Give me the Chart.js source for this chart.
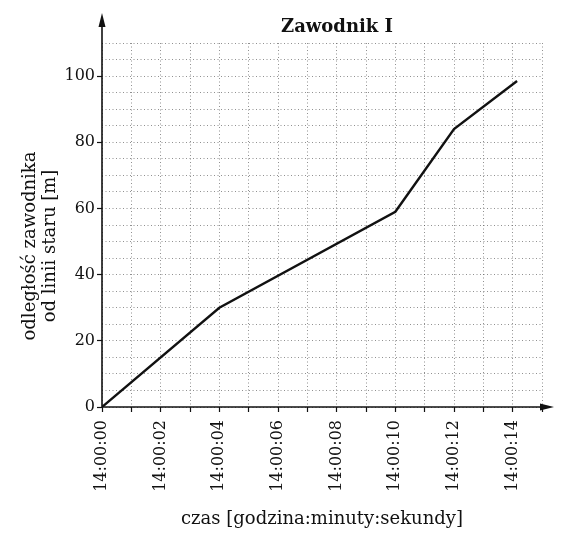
<!DOCTYPE html>
<html><head><meta charset="utf-8">
<script src="https://cdn.jsdelivr.net/npm/chart.js@4.4.0/dist/chart.umd.min.js"></script>
<style>html,body{margin:0;padding:0;background:#fff}#wrap{width:561px;height:536px}</style>
</head><body><div id="wrap"><canvas id="c" width="561" height="536"></canvas></div>
<script>
const chartTitle = 'Zawodnik I';
const timeSeconds = [0, 4, 10, 12, 14.15];
const distanceMeters = [0, 30, 59, 84, 98.5];
const xTickLabels = ['14:00:00','14:00:02','14:00:04','14:00:06','14:00:08','14:00:10','14:00:12','14:00:14'];
const yTickLabels = ['0','20','40','60','80','100'];
const xAxisTitle = 'czas [godzina:minuty:sekundy]';
const yAxisTitle = ['odległość zawodnika','od linii staru [m]'];

const FONT = "'DejaVu Serif', 'Liberation Serif', serif";
const gridColor = 'rgba(70,70,70,0.6)';

const decor = {
  id: 'decor',
  afterDraw(chart) {
    const {ctx, scales: {x, y}, chartArea} = chart;
    const x0 = x.getPixelForValue(0), y0 = y.getPixelForValue(0);
    const yTop = chartArea.top - 30, xEnd = chartArea.right + 12;
    ctx.save();
    ctx.strokeStyle = '#111'; ctx.fillStyle = '#111'; ctx.lineWidth = 1.6;
    ctx.beginPath(); ctx.moveTo(x0, y0); ctx.lineTo(x0, yTop + 6); ctx.stroke();
    ctx.beginPath(); ctx.moveTo(x0, yTop); ctx.lineTo(x0 - 3.5, yTop + 14); ctx.lineTo(x0 + 3.5, yTop + 14); ctx.closePath(); ctx.fill();
    ctx.beginPath(); ctx.moveTo(x0, y0); ctx.lineTo(xEnd - 6, y0); ctx.stroke();
    ctx.beginPath(); ctx.moveTo(xEnd, y0); ctx.lineTo(xEnd - 14, y0 - 3.5); ctx.lineTo(xEnd - 14, y0 + 3.5); ctx.closePath(); ctx.fill();
    // title
    ctx.font = "bold 18px " + FONT;
    ctx.textAlign = 'center'; ctx.textBaseline = 'middle';
    ctx.fillText(chartTitle, 337, chartArea.top - 16);
    // y axis title
    ctx.font = "18px " + FONT;
    ctx.translate(40, (chartArea.top + chartArea.bottom) / 2 + 21);
    ctx.rotate(-Math.PI / 2);
    ctx.fillText(yAxisTitle[0], 0, -10);
    ctx.fillText(yAxisTitle[1], 0, 10);
    ctx.restore();
  }
};

new Chart(document.getElementById('c'), {
  type: 'line',
  data: {
    datasets: [{
      data: timeSeconds.map((t, i) => ({x: t, y: distanceMeters[i]})),
      borderColor: '#111', borderWidth: 2.4, pointRadius: 0, tension: 0, fill: false
    }]
  },
  options: {
    responsive: false, animation: false,
    layout: {padding: {left: 0, top: 43, right: 19, bottom: 0}},
    plugins: {legend: {display: false}, tooltip: {enabled: false}, title: {display: false}},
    scales: {
      x: {
        type: 'linear', min: 0, max: 15,
        afterFit(s) { s.height = 129; s.paddingLeft = 0; s.paddingRight = 0; },
        border: {display: false, dash: [1, 2.5]},
        grid: {color: gridColor, lineWidth: 1, tickLength: 5, tickColor: '#111', tickWidth: 1.2},
        ticks: {
          stepSize: 1, autoSkip: false, maxRotation: 90, minRotation: 90, padding: 8,
          color: '#111', font: {family: FONT, size: 16},
          callback: v => (v % 2 === 0 && v / 2 < xTickLabels.length) ? xTickLabels[v / 2] : ''
        },
        title: {display: true, text: xAxisTitle, color: '#111', font: {family: FONT, size: 18}, padding: {top: 4, bottom: 6}}
      },
      y: {
        type: 'linear', min: 0, max: 110,
        afterFit(s) { s.width = 102; s.paddingTop = 0; s.paddingBottom = 0; },
        border: {display: false, dash: [1, 2.5]},
        grid: {color: gridColor, lineWidth: 1, tickLength: 5, tickWidth: 1.2,
          tickColor: c => (c.tick && c.tick.value % 20 === 0 && c.tick.value <= 100) ? '#111' : 'rgba(0,0,0,0)'},
        ticks: {
          stepSize: 5, autoSkip: false, padding: 2, color: '#111', font: {family: FONT, size: 16},
          callback: v => (v % 20 === 0 && v <= 100) ? yTickLabels[v / 20] : ''
        }
      }
    }
  },
  plugins: [decor]
});
</script></body></html>
